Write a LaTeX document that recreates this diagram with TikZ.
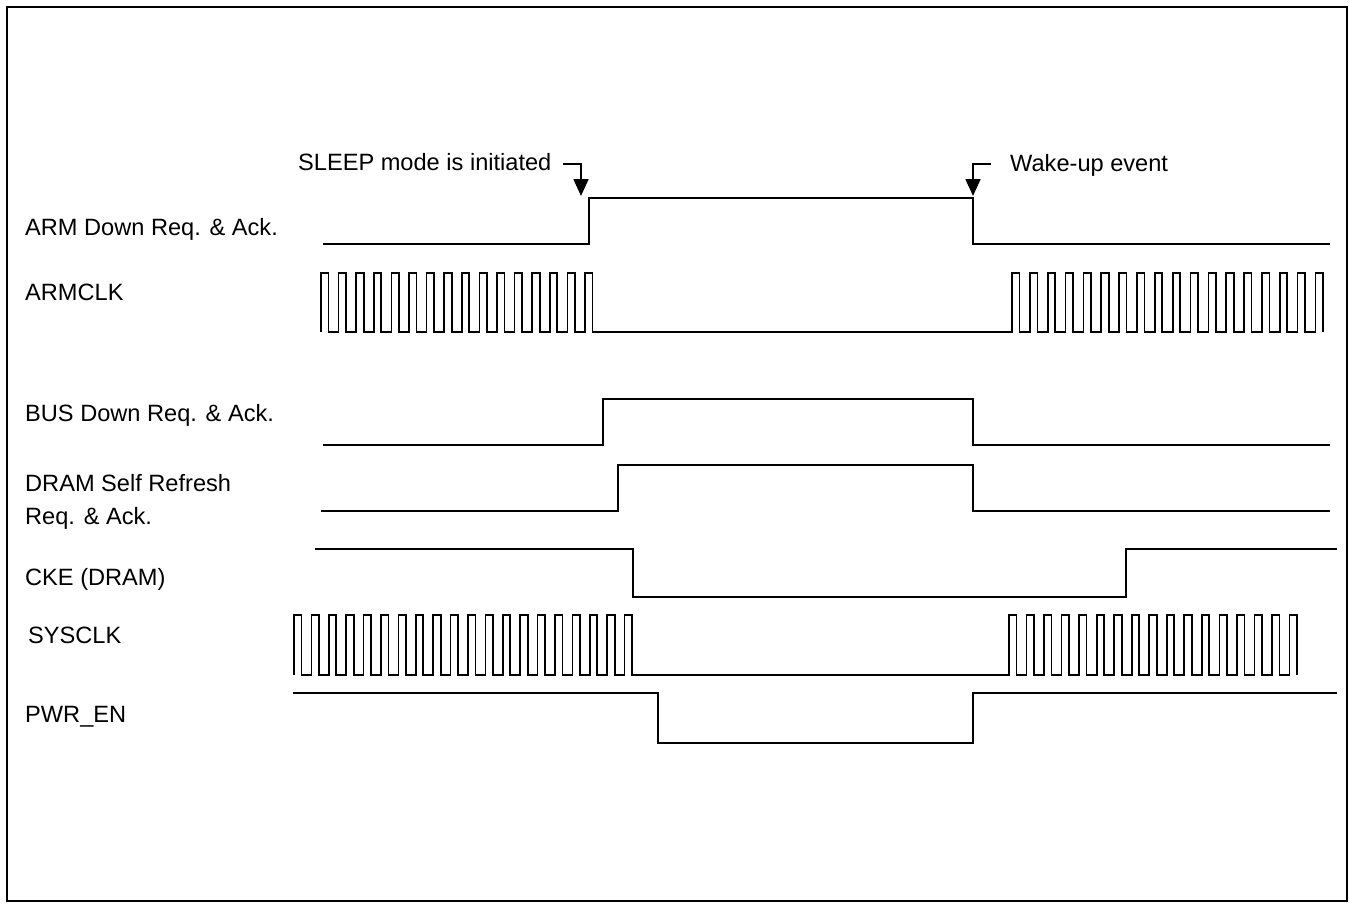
\documentclass[tikz,border=0pt]{standalone}
\usepackage{fontspec}
\setmainfont{Liberation Sans}
\usetikzlibrary{arrows.meta}
\begin{document}
\begin{tikzpicture}[x=1pt,y=-1pt,
  sig/.style={line width=1.7pt,line join=miter},
  lbl/.style={anchor=base west,inner sep=0pt,font=\fontsize{23.6}{33}\selectfont,align=left},
  evarrow/.style={line width=1.7pt,-{Triangle[length=17pt,width=15pt]}}]
\useasboundingbox (0,0) rectangle (1349,903);
\draw[line width=2pt] (7,7) rectangle (1347,901);
% labels
\node[lbl] (lArm) at (25,235) {ARM Down Req. \& Ack.};
\node[lbl] (lArmclk) at (25,300) {ARMCLK};
\node[lbl] (lBus) at (25,421) {BUS Down Req. \& Ack.};
\node[lbl] (lDram) at (25,491) {DRAM Self Refresh};
\node[lbl] (lDram2) at (25,524) {Req. \& Ack.};
\node[lbl] (lCke) at (25,585) {CKE (DRAM)};
\node[lbl] (lSys) at (28,643) {SYSCLK};
\node[lbl] (lPwr) at (25,722) {PWR\_EN};
\node[lbl] (tSleep) at (298,170) {SLEEP mode is initiated};
\node[lbl] (tWake) at (1010,171) {Wake-up event};
% event arrows
\coordinate (s0) at (563,164);
\coordinate (s1) at (581,164);
\coordinate (s2) at (581,196);
\coordinate (w0) at (991,164);
\coordinate (w1) at (973,164);
\coordinate (w2) at (973,196);
\draw[evarrow] (s0) -- (s1) -- (s2);
\draw[evarrow] (w0) -- (w1) -- (w2);
% ARM Down Req & Ack
\draw[sig] (323,244) -- (589,244) -- (589,198) -- (973,198) -- (973,244) -- (1330,244);
% ARMCLK
\draw[sig] (321,332) foreach \i in {1,...,16} {-- ++(0,-59) -- ++(7.5,0) -- ++(0,59) -- ++(10.1,0)}
  -- (1012,332) foreach \i in {1,...,17} {-- ++(0,-59) -- ++(7.5,0) -- ++(0,59) -- ++(10.35,0)}
  -- ++(0,-59) -- ++(7.5,0) -- ++(0,59);
% BUS Down
\draw[sig] (323,445) -- (603,445) -- (603,399) -- (973,399) -- (973,445) -- (1330,445);
% DRAM Self Refresh
\draw[sig] (321,511) -- (618,511) -- (618,465) -- (973,465) -- (973,511) -- (1330,511);
% CKE
\draw[sig] (315,549) -- (633,549) -- (633,597) -- (1126,597) -- (1126,549) -- (1337,549);
% SYSCLK
\draw[sig] (294,675) foreach \i in {1,...,20} {-- ++(0,-60) -- ++(7.5,0) -- ++(0,60) -- ++(9.9,0)}
  -- (1009,675) foreach \i in {1,...,16} {-- ++(0,-60) -- ++(7.5,0) -- ++(0,60) -- ++(10.03,0)}
  -- ++(0,-60) -- ++(7.5,0) -- ++(0,60);
% PWR_EN
\draw[sig] (293,693) -- (658,693) -- (658,743) -- (973,743) -- (973,693) -- (1337,693);
\end{tikzpicture}
\end{document}
